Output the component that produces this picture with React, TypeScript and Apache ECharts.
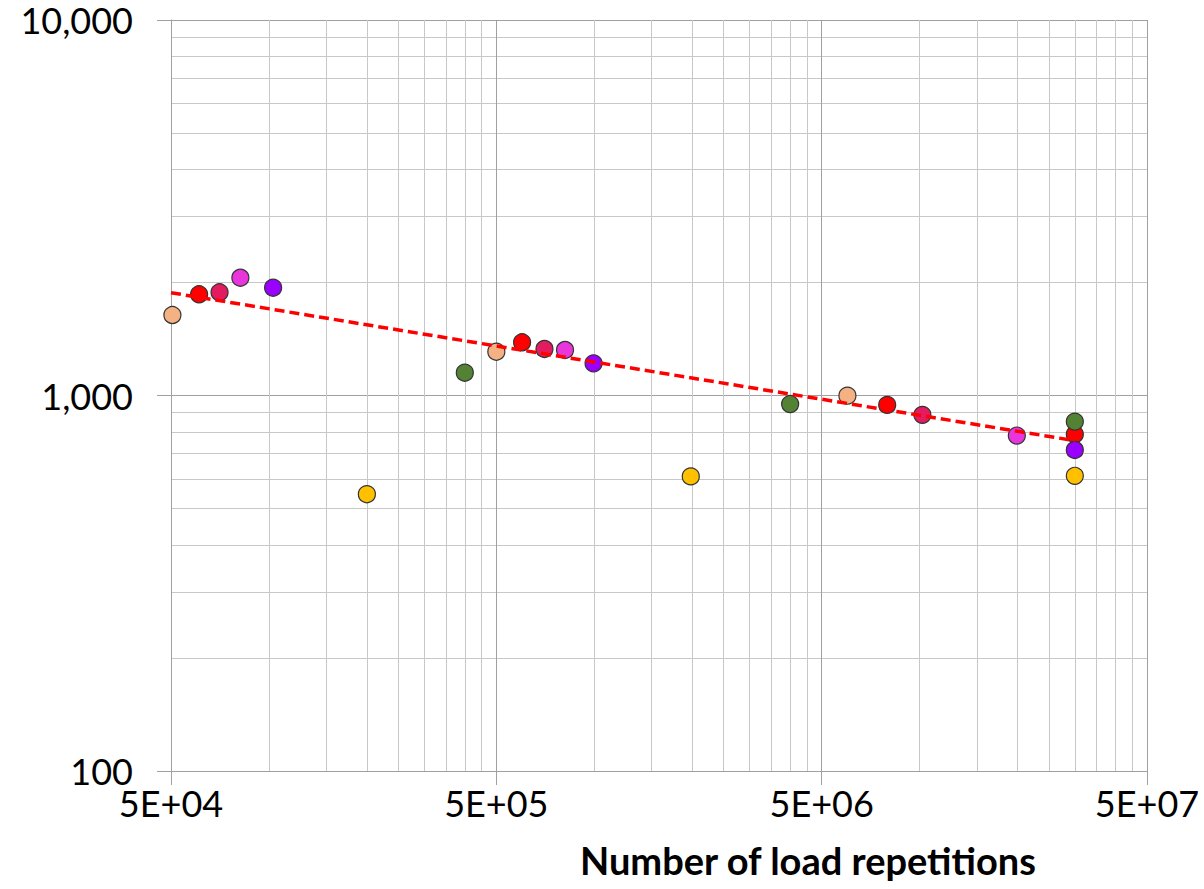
import React, { useEffect, useRef } from "react";
import * as echarts from "echarts";

// ---- Data ----
const X_MAJOR_TICKS = [5e4, 5e5, 5e6, 5e7];
const X_MINOR_GRID = [
  1e5, 1.5e5, 2e5, 2.5e5, 3e5, 3.5e5, 4e5, 4.5e5,
  1e6, 1.5e6, 2e6, 2.5e6, 3e6, 3.5e6, 4e6, 4.5e6,
  1e7, 1.5e7, 2e7, 2.5e7, 3e7, 3.5e7, 4e7, 4.5e7,
];
const Y_MAJOR_TICKS = [100, 1000, 10000];

const peachX = [5.05e4, 5.0e5, 6.0e6];
const peachY = [1638, 1308, 999];
const redX = [6.1e4, 6.0e5, 7.95e6, 3.0e7];
const redY = [1860, 1386, 944, 788];
const crimsonX = [7.05e4, 7.03e5, 1.02e7];
const crimsonY = [1883, 1330, 888];
const magentaX = [8.17e4, 8.13e5, 1.99e7];
const magentaY = [2059, 1322, 782];
const purpleX = [1.03e5, 9.95e5, 3.0e7];
const purpleY = [1937, 1218, 716];
const yellowX = [2.0e5, 1.98e6, 3.0e7];
const yellowY = [546, 609, 611];
const greenX = [4.0e5, 4.0e6, 3.0e7];
const greenY = [1150, 949, 852];

const trendX = [5e4, 3e7];
const trendY = [1878, 758];

const X_AXIS_TITLE = "Number of load repetitions";

const pairs = (xs: number[], ys: number[]) => xs.map((x, i) => [x, ys[i]]);

const fmtSci = (v: number) => {
  const e = Math.floor(Math.log10(v) + 1e-9);
  const m = Math.round(v / Math.pow(10, e));
  return `${m}E+${String(e).padStart(2, "0")}`;
};

const MAJOR = "#a0a0a0";
const MINOR = "#c8c8c8";
const FONT = "Lato";

export default function App() {
  const ref = useRef<HTMLDivElement>(null);
  useEffect(() => {
    if (!ref.current) return;
    const chart = echarts.init(ref.current, undefined, { renderer: "svg" });
    const scatter = (name: string, xs: number[], ys: number[], color: string) => ({
      name,
      type: "scatter",
      data: pairs(xs, ys),
      symbol: "circle",
      symbolSize: 17,
      itemStyle: { color, borderColor: "#333333", borderWidth: 1.2, opacity: 1 },
      z: 3,
    });
    chart.setOption({
      animation: false,
      backgroundColor: "#ffffff",
      grid: { left: 171, right: 57, top: 20, bottom: 118, containLabel: false },
      xAxis: [
        {
          type: "log",
          logBase: 10,
          min: 5e4,
          max: 5e7,
          position: "bottom",
          axisLine: { show: true, onZero: false, lineStyle: { color: MAJOR, width: 1 } },
          axisTick: { show: true, customValues: X_MAJOR_TICKS, length: 14, lineStyle: { color: MAJOR } },
          axisLabel: {
            customValues: X_MAJOR_TICKS,
            formatter: (v: number) => fmtSci(v),
            fontSize: 36,
            fontFamily: FONT,
            color: "#000",
            margin: 14,
          },
          splitLine: { show: true, lineStyle: { color: MAJOR, width: 1 } },
        },
        {
          type: "log",
          logBase: 10,
          min: 5e4,
          max: 5e7,
          position: "top",
          axisLine: { show: false },
          axisTick: { show: false, customValues: X_MINOR_GRID },
          axisLabel: { show: false },
          splitLine: { show: true, lineStyle: { color: MINOR, width: 1 } },
        },
      ],
      yAxis: {
        type: "log",
        logBase: 10,
        min: 100,
        max: 10000,
        axisLine: { show: true, onZero: false, lineStyle: { color: MAJOR, width: 1 } },
        axisTick: { show: true, customValues: Y_MAJOR_TICKS, length: 14, lineStyle: { color: MAJOR } },
        axisLabel: {
          customValues: Y_MAJOR_TICKS,
          formatter: (v: number) => Math.round(v).toLocaleString("en-US"),
          fontSize: 36,
          lineHeight: 30,
          fontFamily: FONT,
          color: "#000",
          margin: 38,
        },
        splitLine: { show: true, lineStyle: { color: MAJOR, width: 1 } },
        minorTick: { show: false, splitNumber: 9 },
        minorSplitLine: { show: true, lineStyle: { color: MINOR, width: 1 } },
      },
      series: [
        scatter("Series A", peachX, peachY, "#f4b183"),
        scatter("Series B", redX, redY, "#ff0000"),
        scatter("Series C", crimsonX, crimsonY, "#e31b60"),
        scatter("Series D", magentaX, magentaY, "#e836dc"),
        scatter("Series E", purpleX, purpleY, "#9900ff"),
        scatter("Series F", yellowX, yellowY, "#ffc000"),
        scatter("Series G", greenX, greenY, "#548235"),
        {
          name: "Trend",
          type: "line",
          data: pairs(trendX, trendY),
          symbol: "none",
          lineStyle: { color: "#ff0000", width: 3.5, type: [10, 5] },
          z: 4,
          silent: true,
        },
      ],
      graphic: [
        {
          type: "text",
          x: 808,
          y: 860,
          style: {
            text: X_AXIS_TITLE,
            fontSize: 38,
            fontWeight: "bold",
            fontFamily: FONT,
            fill: "#000",
            align: "center",
            verticalAlign: "middle",
          },
        },
      ],
    });
    return () => chart.dispose();
  }, []);
  return (
    <div
      ref={ref}
      style={{ position: "fixed", left: 0, top: 0, width: 1204, height: 889, background: "#fff" }}
    />
  );
}
